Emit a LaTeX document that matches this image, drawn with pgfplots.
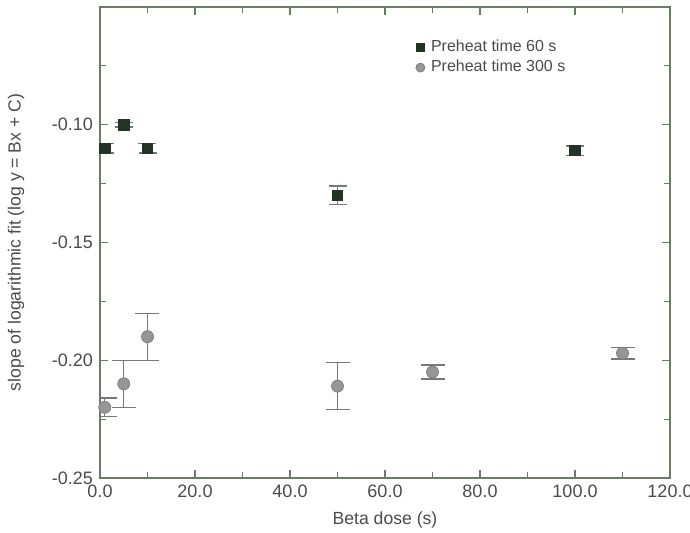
\documentclass[border=0pt]{standalone}
\usepackage{fontspec}
\setmainfont{Liberation Sans}
\usepackage{pgfplots}
\pgfplotsset{compat=1.18}
\definecolor{axgreen}{RGB}{105,125,100}
\definecolor{txtgray}{RGB}{75,75,75}
\definecolor{sqdark}{RGB}{35,52,38}
\definecolor{circgray}{RGB}{150,150,150}
\definecolor{errgray}{RGB}{120,120,120}

\begin{document}
\begin{tikzpicture}
\begin{axis}[
  name=main,
  scale only axis,
  width=285pt, height=235.5pt,
  xmin=0, xmax=120, ymin=-0.25, ymax=-0.05,
  xtick={0,20,...,120},
  ytick={-0.25,-0.20,-0.15,-0.10},
  minor xtick={10,30,50,70,90,110},
  minor ytick={-0.225,-0.175,-0.125,-0.075},
  tick align=inside,
  major tick length=4pt, minor tick length=3pt,
  axis line style={axgreen, line width=0.7pt},
  every tick/.style={axgreen, line width=0.6pt},
  x tick label style={/pgf/number format/.cd, fixed, fixed zerofill, precision=1, assume math mode=true},
  y tick label style={/pgf/number format/.cd, fixed, fixed zerofill, precision=2, assume math mode=true},
  ticklabel style={font=\fontsize{9}{10}\selectfont, text=txtgray},
  label style={font=\fontsize{8.8}{10}\selectfont, text=txtgray},
  xlabel={Beta dose (s)},
  ylabel={slope of logarithmic fit (log y = Bx + C)},
  ylabel shift=7pt,
  legend style={at={(0.55,0.942)}, anchor=north west, draw=none, fill=none,
    font=\fontsize{8}{9}\selectfont, text=txtgray, inner sep=1pt,
    row sep=0pt, nodes={inner sep=1.5pt}},
  legend cell align=left,
  legend image post style={scale=0.75},
  legend image code/.code={\draw[#1] plot coordinates {(0.1cm,0cm)}; \path (0.27cm,0cm);},
]
\addplot[only marks, mark=square*, mark size=2.6pt,
  mark options={fill=sqdark, draw=sqdark},
  error bars/.cd, y dir=both, y explicit,
  error bar style={errgray, line width=0.6pt},
  error mark options={errgray, rotate=90, mark size=4.5pt, line width=0.6pt}]
  table[x=x, y=y, y error=e] {
x y e
1 -0.110 0.002
5 -0.100 0.001
10 -0.110 0.002
50 -0.130 0.004
100 -0.111 0.002
};
\addlegendentry{Preheat time 60 s}
\addplot[only marks, mark=*, mark size=3pt,
  mark options={fill=circgray, draw=circgray!85!black},
  error bars/.cd, y dir=both, y explicit,
  error bar style={errgray, line width=0.6pt},
  error mark options={errgray, rotate=90, mark size=6pt, line width=0.6pt}]
  table[x=x, y=y, y error=e] {
x y e
1 -0.220 0.004
5 -0.210 0.010
10 -0.190 0.010
50 -0.211 0.010
70 -0.205 0.003
110 -0.197 0.0025
};
\addlegendentry{Preheat time 300 s}
\end{axis}
\pgfresetboundingbox
\path ([shift={(-50pt,-27.5pt)}]main.south west) ([shift={(10pt,3.5pt)}]main.north east);
\end{tikzpicture}
\end{document}
